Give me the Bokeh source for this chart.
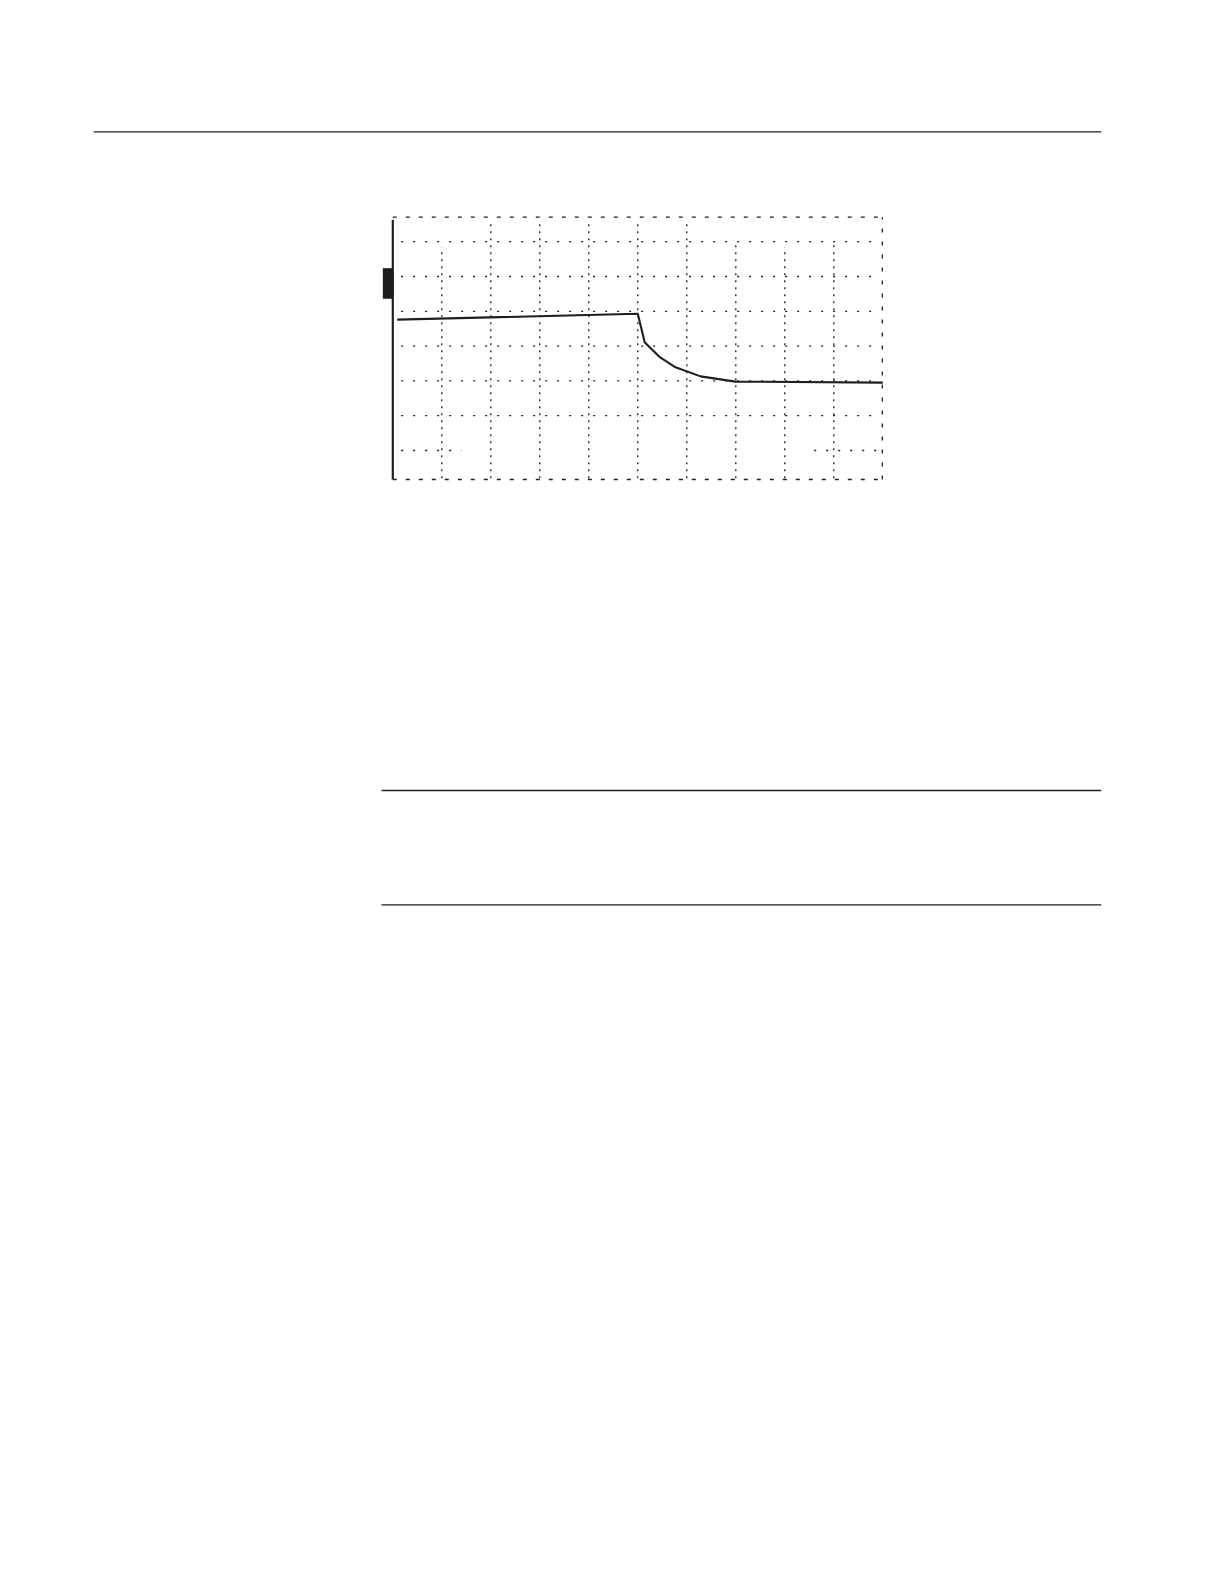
from bokeh.plotting import figure
from bokeh.models import Range1d, ColumnDataSource
from bokeh.embed import file_html
from bokeh.resources import INLINE

# ---- data (in graticule divisions) ----
time_div = [0.09, 5.00, 5.14, 5.45, 5.77, 6.28, 6.99, 10.0]
level_div = [4.76, 4.93, 4.11, 3.68, 3.39, 3.13, 2.98, 2.95]
ref_level = 5.80                      # channel reference marker
x_divisions = list(range(1, 10))     # vertical graticule lines
y_rows = [2, 3, 4, 5, 6, 7]          # full horizontal graticule rows
partial_row = 1

INK = "#1e1e1e"
W, H = 1200, 1000

# page-space figure (y grows downward); graticule lives in extra ranges
p = figure(width=W, height=H, x_range=Range1d(0, W), y_range=Range1d(H, 0),
           x_axis_location=None, y_axis_location=None,
           toolbar_location=None, output_backend="svg",
           min_border_left=0, min_border_right=0, min_border_top=0, min_border_bottom=0)
p.outline_line_color = None
p.background_fill_color = "white"
p.border_fill_color = "white"
for g in p.center:
    if hasattr(g, "grid_line_color"):
        g.grid_line_color = None

# graticule scale: 49 px per horizontal division, 34.8 px per vertical division
x0_px, px_x = 392.3, 49.0
y0_px, px_y = 484.8, 34.8
p.extra_x_ranges = {"div_x": Range1d(-x0_px / px_x, (W - x0_px) / px_x)}
p.extra_y_ranges = {"div_y": Range1d((y0_px - H) / px_y, y0_px / px_y)}
G = dict(x_range_name="div_x", y_range_name="div_y")

# ---- page rules ----
p.segment(x0=[93.3], y0=[131.3], x1=[1100.7], y1=[131.3], line_color=INK, line_width=1.3)
p.segment(x0=[381, 381], y0=[790, 904.3], x1=[1100.7, 1100.7], y1=[790, 904.3],
          line_color=INK, line_width=1.3)

# ---- graticule ----
yb, yt = 0.167, 7.704
xr = 9.99
col_tops = [6.85, 7.6, 7.6, 7.6, 7.6, 7.6, 6.9, 6.85, 6.9]
p.segment(x0=x_divisions, y0=[0.2] * len(x_divisions), x1=x_divisions, y1=col_tops,
          line_color=INK, line_width=1.3, line_dash="2 5", **G)
p.segment(x0=[0.17] * len(y_rows), y0=y_rows, x1=[9.88] * len(y_rows), y1=y_rows,
          line_color=INK, line_width=1.3, line_dash="2 10", **G)
p.segment(x0=[0.17, 8.6], y0=[partial_row] * 2, x1=[1.4, 9.88], y1=[partial_row] * 2,
          line_color=INK, line_width=1.3, line_dash="2 10", **G)
# border: dashed top / bottom / right, solid left
p.segment(x0=[0.0, 0.0], y0=[yt, yb], x1=[xr, xr], y1=[yt, yb],
          line_color=INK, line_width=1.3, line_dash="4 9", **G)
p.segment(x0=[xr], y0=[yb], x1=[xr], y1=[yt],
          line_color=INK, line_width=1.3, line_dash="4 9", **G)
p.segment(x0=[0.0], y0=[yb], x1=[0.0], y1=[7.62], line_color=INK, line_width=2.2, **G)
# reference marker
p.quad(left=[-0.204], right=[0.01], bottom=[ref_level - 0.44], top=[ref_level + 0.44],
       fill_color=INK, line_color=None, **G)
# trace
src = ColumnDataSource(dict(t=time_div, v=level_div))
p.line("t", "v", source=src, line_color=INK, line_width=2.1, line_join="round", **G)

open("out.html", "w").write(file_html(p, INLINE))
